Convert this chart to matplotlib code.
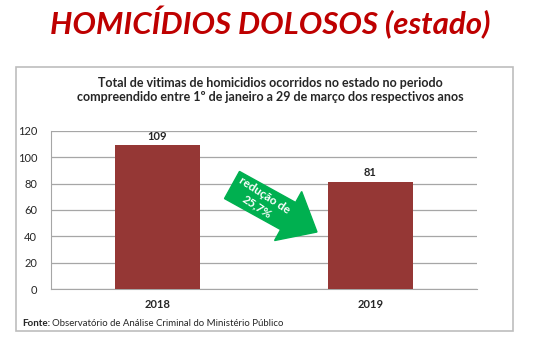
import matplotlib
matplotlib.use('Agg')
import matplotlib.pyplot as plt
from matplotlib.patches import Rectangle, FancyArrow
from matplotlib.transforms import IdentityTransform
import numpy as np

# data
anos = ['2018', '2019']
vitimas = [109, 81]
yticks = [0, 20, 40, 60, 80, 100, 120]

W, H = 540, 351
plt.rcParams['font.family'] = ['Lato', 'DejaVu Sans']

fig = plt.figure(figsize=(W / 100, H / 100), dpi=100)
fig.patch.set_facecolor('white')


def fx(x):
    return x / W


def fy(y):
    return 1 - y / H


# moldura do gráfico
fig.patches.append(Rectangle((fx(16), fy(331)), fx(513) - fx(16), fy(67) - fy(331),
                             transform=fig.transFigure, facecolor='white',
                             edgecolor='#BDBDBD', lw=1.2, zorder=-1))

fig.text(0.5, fy(23), 'HOMICÍDIOS DOLOSOS (estado)', ha='center', va='center',
         fontsize=22.5, fontweight='bold', style='italic', color='#BE0000')

fig.text(0.5, fy(90), 'Total de vitimas de homicidios ocorridos no estado no periodo\n'
         'compreendido entre 1º de janeiro a 29 de março dos respectivos anos',
         ha='center', va='center', fontsize=9, fontweight='bold', color='#262626',
         linespacing=1.25)

ax = fig.add_axes([fx(51), fy(289), fx(477) - fx(51), fy(131) - fy(289)])
x = np.arange(len(anos))
ax.bar(x, vitimas, width=0.4, color='#953735', zorder=3)
ax.set_xlim(-0.5, 1.5)
ax.set_ylim(0, 120)
ax.set_yticks(yticks)
ax.set_yticklabels([str(v) for v in yticks], fontsize=8, color='#262626')
ax.set_xticks(x)
ax.set_xticklabels(anos, fontsize=8, fontweight='bold', color='#262626')
ax.tick_params(axis='both', length=0, pad=7)
ax.tick_params(axis='y', pad=10)
ax.grid(axis='y', color='#A6A6A6', lw=0.9, zorder=0)
for s in ['top', 'right']:
    ax.spines[s].set_visible(False)
for s in ['left', 'bottom']:
    ax.spines[s].set_color('#A6A6A6')
for xi, v in zip(x, vitimas):
    ax.text(xi, v + 3, str(v), ha='center', va='bottom', fontsize=8,
            fontweight='bold', color='#262626')

# seta verde de redução (coordenadas em pixels)
x0, y0 = 232, H - 185
dx, dy = 85, -47
ang = np.degrees(np.arctan2(dy, dx))
fig.patches.append(FancyArrow(x0, y0, dx, dy, width=31, head_width=56, head_length=33,
                              length_includes_head=True, color='#00B050',
                              transform=IdentityTransform(), zorder=5))
fig.text(fx(261), fy(201), 'redução de\n25,7%', ha='center', va='center',
         rotation=ang - 4, rotation_mode='anchor', fontsize=8.5, fontweight='bold',
         color='white', zorder=6, linespacing=1.3)

fig.text(fx(22), fy(324), 'Fonte:', ha='left', va='center', fontsize=7,
         fontweight='bold', color='#262626')
fig.text(fx(52), fy(324), 'Observatório de Análise Criminal do Ministério Público',
         ha='left', va='center', fontsize=6.9, color='#262626')

fig.savefig('out.png', dpi=100)
